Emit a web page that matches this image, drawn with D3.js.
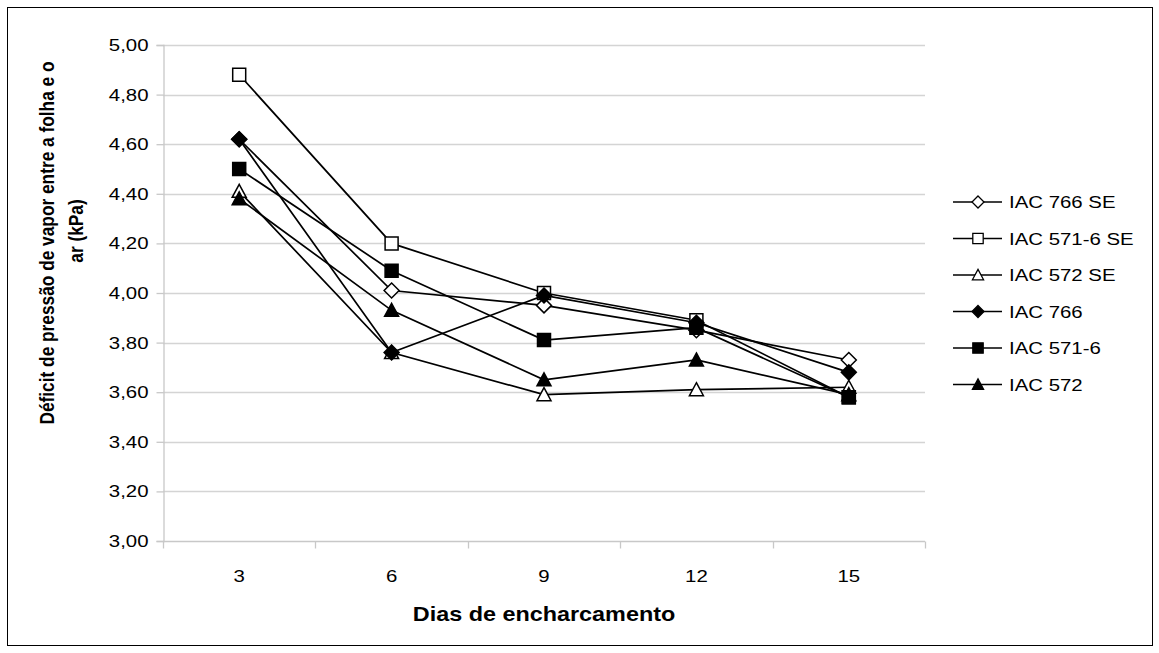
<!DOCTYPE html>
<html>
<head>
<meta charset="utf-8">
<script src="https://cdn.jsdelivr.net/npm/d3@7"></script>
<style>
  html, body { margin: 0; padding: 0; background: #fff; }
  svg { display: block; font-family: "Liberation Sans", Arial, sans-serif; }
</style>
</head>
<body>
<svg id="chart" width="1159" height="653"></svg>
<script>
// Days of waterlogging (x categories)
const days = ["3", "6", "9", "12", "15"];

// Leaf-to-air vapour pressure deficit (kPa), one array per cultivar
const iac766SE   = [4.62, 4.01, 3.95, 3.85, 3.73];
const iac5716SE  = [4.88, 4.20, 4.00, 3.89, 3.58];
const iac572SE   = [4.41, 3.76, 3.59, 3.61, 3.62];
const iac766     = [4.62, 3.76, 3.99, 3.88, 3.68];
const iac5716    = [4.50, 4.09, 3.81, 3.86, 3.58];
const iac572     = [4.38, 3.93, 3.65, 3.73, 3.59];

const seriesNames = ["IAC 766 SE", "IAC 571-6 SE", "IAC 572 SE", "IAC 766", "IAC 571-6", "IAC 572"];
const seriesValues = [iac766SE, iac5716SE, iac572SE, iac766, iac5716, iac572];
const seriesShapes = ["diamond", "square", "triangle", "diamond", "square", "triangle"];
const seriesFilled = [false, false, false, true, true, true];

const yTicks = [3.0, 3.2, 3.4, 3.6, 3.8, 4.0, 4.2, 4.4, 4.6, 4.8, 5.0];

const yTitleLines = ["Déficit de pressão de vapor entre a folha e o", "ar (kPa)"];
const xTitle = "Dias de encharcamento";

// the type in this chart is set slightly wide
const SX = 1.2;

const svg = d3.select("#chart");

// outer frame
svg.append("rect")
  .attr("x", 7.5).attr("y", 7.5)
  .attr("width", 1145).attr("height", 638)
  .attr("fill", "#fff").attr("stroke", "#000").attr("stroke-width", 1);

const plot = { left: 163, right: 925, top: 45, bottom: 541 };

const x = d3.scaleBand().domain(days).range([plot.left, plot.right]).padding(0);
const y = d3.scaleLinear().domain([3, 5]).range([plot.bottom, plot.top]);

const fmt = v => d3.format(".2f")(v).replace(".", ",");

// horizontal gridlines
svg.append("g")
  .selectAll("line")
  .data(yTicks.filter(t => t > 3))
  .join("line")
  .attr("x1", plot.left).attr("x2", plot.right)
  .attr("y1", d => Math.round(y(d)) + 0.5).attr("y2", d => Math.round(y(d)) + 0.5)
  .attr("stroke", "#d4d4d4").attr("stroke-width", 1.3);

// y axis
const yAxis = svg.append("g")
  .attr("transform", `translate(${plot.left + 0.5},0)`)
  .call(d3.axisLeft(y).tickValues(yTicks).tickFormat(fmt).tickSize(7).tickPadding(8));
yAxis.select(".domain").attr("stroke", "#c8c8c8").attr("stroke-width", 1.3);
yAxis.selectAll(".tick line").attr("stroke", "#c8c8c8").attr("stroke-width", 1.3);
yAxis.selectAll(".tick text")
  .attr("font-size", 17).attr("fill", "#000")
  .attr("font-family", "Liberation Sans, Arial, sans-serif")
  .attr("x", null)
  .attr("text-anchor", "end")
  .attr("transform", `translate(-15,0) scale(${SX},1)`);

// x axis: ticks on category boundaries, labels at category centres
const xAxisG = svg.append("g").attr("transform", `translate(0,${plot.bottom + 0.5})`);
xAxisG.append("line")
  .attr("x1", plot.left).attr("x2", plot.right)
  .attr("stroke", "#c8c8c8").attr("stroke-width", 1.3);
const boundaries = days.map(d => x(d)).concat([x(days[days.length - 1]) + x.bandwidth()]);
xAxisG.selectAll("line.tk")
  .data(boundaries)
  .join("line")
  .attr("class", "tk")
  .attr("x1", d => Math.round(d) + 0.5).attr("x2", d => Math.round(d) + 0.5)
  .attr("y1", 0).attr("y2", 7)
  .attr("stroke", "#c8c8c8").attr("stroke-width", 1.3);
xAxisG.selectAll("text")
  .data(days)
  .join("text")
  .attr("transform", d => `translate(${x(d) + x.bandwidth() / 2},40) scale(${SX},1)`)
  .attr("text-anchor", "middle")
  .attr("font-size", 17)
  .text(d => d);

// axis titles
svg.append("text")
  .attr("transform", `translate(${(plot.left + plot.right) / 2},621) scale(${SX},1)`)
  .attr("text-anchor", "middle")
  .attr("font-size", 19.5)
  .attr("font-weight", "bold")
  .text(xTitle);

svg.append("text")
  .attr("transform", `translate(54,243) scale(${SX},1) rotate(-90)`)
  .attr("text-anchor", "middle")
  .attr("font-size", 17.3)
  .attr("font-weight", "bold")
  .text(yTitleLines[0]);
svg.append("text")
  .attr("transform", `translate(83,231) scale(${SX},1) rotate(-90)`)
  .attr("text-anchor", "middle")
  .attr("font-size", 17.3)
  .attr("font-weight", "bold")
  .text(yTitleLines[1]);

// marker shapes
function markerPath(shape) {
  if (shape === "diamond") return "M0,-7.5L7.5,0L0,7.5L-7.5,0Z";
  if (shape === "square") return "M-6.5,-6.5H6.5V6.5H-6.5Z";
  return "M0,-7L7,6H-7Z";
}

const line = d3.line()
  .x((d, i) => x(days[i]) + x.bandwidth() / 2)
  .y(d => y(d));

// series lines and markers, drawn in legend order
seriesValues.forEach((vals, s) => {
  const g = svg.append("g");
  g.append("path")
    .datum(vals)
    .attr("d", line)
    .attr("fill", "none")
    .attr("stroke", "#000")
    .attr("stroke-width", 1.7);
  g.selectAll("path.m")
    .data(vals)
    .join("path")
    .attr("class", "m")
    .attr("transform", (d, i) => `translate(${x(days[i]) + x.bandwidth() / 2},${y(d)})`)
    .attr("d", markerPath(seriesShapes[s]))
    .attr("fill", seriesFilled[s] ? "#000" : "#fff")
    .attr("stroke", "#000")
    .attr("stroke-width", 1.5);
});

// legend
const legend = svg.append("g");
seriesNames.forEach((name, s) => {
  const ly = 202 + s * 36.5;
  const row = legend.append("g").attr("transform", `translate(0,${ly})`);
  row.append("line")
    .attr("x1", 953).attr("x2", 1002)
    .attr("y1", 0).attr("y2", 0)
    .attr("stroke", "#000").attr("stroke-width", 1.5);
  row.append("path")
    .attr("transform", "translate(978,0) scale(0.8)")
    .attr("d", markerPath(seriesShapes[s]))
    .attr("fill", seriesFilled[s] ? "#000" : "#fff")
    .attr("stroke", "#000")
    .attr("stroke-width", 1.6);
  row.append("text")
    .attr("transform", `translate(1009,6) scale(${SX},1)`)
    .attr("font-size", 17)
    .text(name);
});
</script>
</body>
</html>
